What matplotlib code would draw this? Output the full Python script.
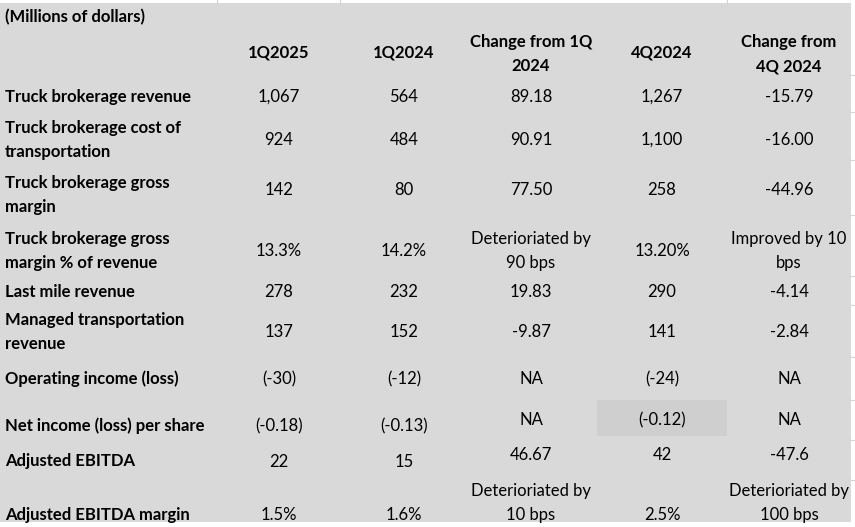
import matplotlib
matplotlib.use("Agg")
import matplotlib.pyplot as plt
from matplotlib.patches import Rectangle

plt.rcParams['font.family'] = ['Lato', 'DejaVu Sans']

# table contents
unit_note = "(Millions of dollars)"
col_headers = ["1Q2025", "1Q2024", "Change from 1Q\n2024", "4Q2024", "Change from\n4Q 2024"]
row_labels = [
    "Truck brokerage revenue",
    "Truck brokerage cost of\ntransportation",
    "Truck brokerage gross\nmargin",
    "Truck brokerage gross\nmargin % of revenue",
    "Last mile revenue",
    "Managed transportation\nrevenue",
    "Operating income (loss)",
    "Net income (loss) per share",
    "Adjusted EBITDA",
    "Adjusted EBITDA margin",
]
q1_2025 = ["1,067", "924", "142", "13.3%", "278", "137", "(-30)", "(-0.18)", "22", "1.5%"]
q1_2024 = ["564", "484", "80", "14.2%", "232", "152", "(-12)", "(-0.13)", "15", "1.6%"]
chg_1q = ["89.18", "90.91", "77.50", "Deterioriated by\n90 bps", "19.83", "-9.87", "NA", "NA",
          "46.67", "Deterioriated by\n10 bps"]
q4_2024 = ["1,267", "1,100", "258", "13.20%", "290", "141", "(-24)", "(-0.12)", "42", "2.5%"]
chg_4q = ["-15.79", "-16.00", "-44.96", "Improved by 10\nbps", "-4.14", "-2.84", "NA", "NA",
          "-47.6", "Deterioriated by\n100 bps"]

# layout (pixels)
W, H = 855, 527
col_x = [279, 404, 531, 662, 789]
label_y = [96, 139, 194, 250, 291, 331, 378, 425, 460, 514]
value_y = {
    0: [96, 139, 189, 250, 291, 331, 378, 425, 461, 514],
    1: [96, 139, 189, 250, 291, 331, 378, 425, 461, 514],
    2: [96, 139, 189, 250, 291, 331, 378, 419, 454, 502],
    3: [96, 139, 189, 250, 291, 331, 378, 419, 454, 514],
    4: [96, 139, 189, 250, 291, 331, 378, 419, 454, 502],
}
line_sp = 1.65
dy = 1  # small nudge so glyphs sit like the spreadsheet cells

fig = plt.figure(figsize=(W / 100, H / 100), dpi=100)
ax = fig.add_axes([0, 0, 1, 1])
ax.set_xlim(0, W)
ax.set_ylim(H, 0)
ax.axis('off')

bg = '#d9d9d9'
ax.add_patch(Rectangle((0, 3), 851, 519, facecolor=bg, edgecolor='none'))
# faint sheet gridlines outside the shaded block
for x in [217, 340, 727]:
    ax.plot([x, x], [0, 3], color='#d4d4d4', lw=0.8)
for y in [75, 112, 160, 215, 276, 305, 357, 400, 440, 480]:
    ax.plot([851, 855], [y, y], color='#d4d4d4', lw=0.8)
# highlighted cell
ax.add_patch(Rectangle((597, 400), 130, 36, facecolor='#cfcfcf', edgecolor='none'))

fs = 12
txt = '#000000'
ax.text(5, 16 + dy, unit_note, fontsize=fs, fontweight='bold', color=txt, va='center', ha='left')

header_y = [52, 52, 53, 52, 53]
for x, hy, h in zip(col_x, header_y, col_headers):
    ax.text(x, hy + dy, h, fontsize=fs, fontweight='bold', color=txt, ha='center', va='center',
            linespacing=line_sp)

for y, lab in zip(label_y, row_labels):
    ax.text(5, y + dy, lab, fontsize=fs, fontweight='bold', color=txt, ha='left', va='center',
            linespacing=line_sp)

columns = [q1_2025, q1_2024, chg_1q, q4_2024, chg_4q]
for ci, (x, vals) in enumerate(zip(col_x, columns)):
    for y, v in zip(value_y[ci], vals):
        ax.text(x, y + dy, v, fontsize=fs, color=txt, ha='center', va='center', linespacing=line_sp)

fig.savefig('out.png', dpi=100, facecolor='white')
